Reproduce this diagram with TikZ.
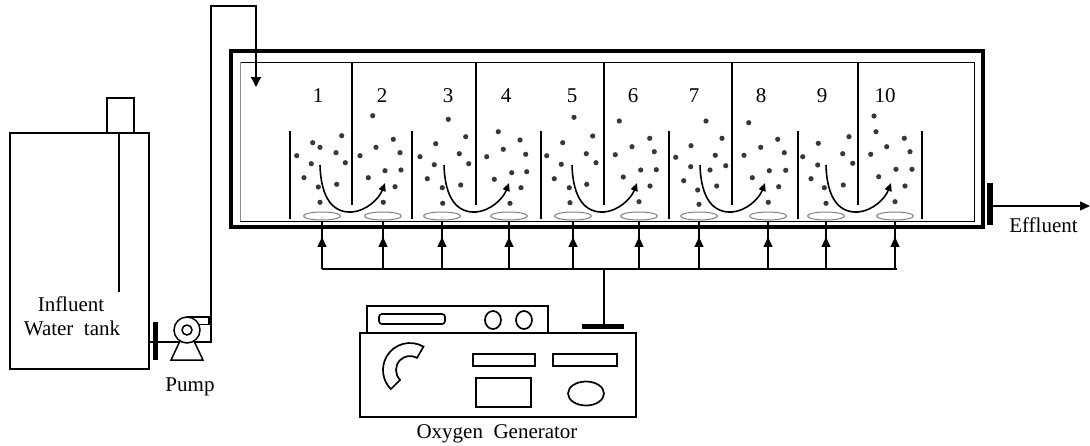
\documentclass[tikz,border=0pt]{standalone}
\usepackage{fontspec}
\setmainfont{Liberation Serif}
\usetikzlibrary{arrows.meta,shapes.geometric,decorations.markings}
\begin{document}
\begin{tikzpicture}[x=1pt,y=-1pt,
  lbl/.style={font=\fontsize{21}{25}\selectfont, inner sep=0pt, anchor=base},
  pipe/.style={line width=1.3pt},
  baffle/.style={line width=1.7pt},
  bubble/.style={fill=black!78},
  diffuser/.style={ellipse, draw=black!50, line width=1pt, minimum width=37pt, minimum height=8pt, inner sep=0pt},
  flow/.style={line width=1.6pt, -{Triangle[length=8pt,width=7pt]}},
  airline/.style={line width=1.3pt, postaction={decorate, decoration={markings,
      mark=at position 0.66 with {\arrow{Triangle[length=10pt,width=9pt]}}}}},
  valvebar/.style={line width=5.5pt},
  panel/.style={line width=1.7pt}
]
\useasboundingbox (0,0) rectangle (1090,445);

% ---------- influent water tank ----------
\draw[line width=2.5pt] (10,133) rectangle (149,369);
\draw[line width=2.5pt] (107,98) rectangle (134,133);
\draw[line width=1.5pt] (119,133) -- (119,292);
\node[lbl] (influent) at (71,311) {Influent};
\node[lbl] (watertank) at (72,335) {Water~ tank};

% ---------- valve and pump ----------
\coordinate (tankout) at (149,342);
\coordinate (pumpin) at (179,342);
\coordinate (pumpout) at (195,342);
\coordinate (pipetop) at (211,6);
\coordinate (inlet) at (256,87);
\draw[valvebar] (155.5,322) -- (155.5,360);
\draw[pipe] (tankout) -- (pumpin);
\draw[line width=1.5pt] (187,330) circle[radius=13];
\draw[line width=1.5pt] (187,330) circle[radius=5];
\draw[line width=1.5pt] (187,317) -- (209,317) -- (209,324.3) -- (198.7,324.3);
\draw[line width=1.5pt] (180,341) -- (171,360) -- (203,360) -- (194,341);
\node[lbl] (pumplbl) at (190,391) {Pump};

% feed pipe into the first compartment
\draw[pipe, -{Triangle[length=10pt,width=10pt]}] (pumpout) -| (pipetop) -| (inlet);

% ---------- reactor ----------
\draw[line width=3.3pt] (231,51) rectangle (983,227);
\draw[line width=1pt] (240,62) -- (974,62) -- (974,221) -- (240,221);
\draw[line width=1pt, black!45] (240,62) -- (240,221);

% hanging baffles
\foreach \x in {352,476,604,732,858}
  \draw[baffle] (\x,62) -- (\x,205);
% standing baffles
\foreach \x in {290,412,541,669,798,922}
  \draw[baffle] (\x,131) -- (\x,219);

% compartment numbers
\foreach \i/\x in {1/318,2/382,3/448,4/506,5/572,6/633,7/694,8/761,9/822,10/885}
  \node[lbl] (n\i) at (\x,102.3) {\i};

% bubbles
\foreach \p in {
  (372.7,115.7),(341.7,135.7),(312.7,142.7),(320,147.3),(336,152.7),(296.7,155.7),
  (311.3,163.7),(345.3,162.7),(304,177.7),(318.3,187),(336.7,184.3),(320,202.3),
  (360,155.7),(376,147.3),(393.3,139.3),(400,152.7),(385,170.7),(401,170),
  (368.3,177.7),(395,186.7),(383.3,202.3),
  (448.3,119.3),(465.7,136.7),(435.7,143.7),(459.3,153.7),(420,156.7),(434.3,164.7),
  (468.7,163.7),(427.3,178.7),(442.3,187.7),(460.7,185),(442.7,203.3),
  (498.3,131.7),(520,140),(503.3,149.3),(525.7,154.3),(486.7,156.7),(511.7,172.7),
  (526.7,171.7),(494.3,179.3),(521,187.7),(510,203.3),
  (574,117.3),(592.7,136),(562.7,142.7),(586.3,153.7),(546.7,155.7),(561.3,164.3),
  (596,162.7),(554.3,178.7),(569.3,187.7),(586.7,184.3),(570,202.7),
  (619.3,121),(649.7,138.3),(632,146.7),(654.3,151.7),(615.3,154.7),(640.7,170),
  (656.3,169.7),(623.3,177),(650,186),(639,201.7),
  (706,121),(722,138.3),(691,145.7),(715.3,155.3),(675.7,157.3),(690.7,166.7),
  (725.7,165.7),(710,170),(683.7,180.7),(697.7,190),(716.7,186),(699,204.3),
  (748.7,122.7),(777.7,139.3),(760.7,147.3),(784.3,152.7),(744,155.3),(769.3,170.7),
  (785.7,170.3),(752.3,177.7),(778.7,186.7),(768.3,202.3),
  (818.3,143.3),(849,136.7),(802.7,156.7),(842.7,153.7),(817.7,165),(852.7,163.3),
  (811,178.7),(824.3,187.7),(843.3,185),(826,203.3),
  (874,116),(876,131.7),(904.3,138.3),(886.7,146.7),(910,151.7),(870.7,154.3),
  (896,169.3),(912,169.3),(878.7,176.7),(905,186),(895,201.7)}
  \fill[bubble] \p circle[radius=2.6];

% flow paths under the hanging baffles
\foreach \L in {352,476,604,732,858}
  \draw[flow] (\L-32,165) .. controls (\L-31,200) and (\L-18,213) .. (\L,212)
              .. controls (\L+14,211) and (\L+27,199) .. (\L+33,183);

% diffusers and air supply
\foreach \i/\x in {1/322,2/383,3/442,4/509,5/573,6/639,7/699,8/768,9/826,10/895} {
  \node[diffuser] (d\i) at (\x,216) {};
  \coordinate (h\i) at (\x,269);
  \draw[airline] (h\i) -- (d\i.south);
}
\coordinate (hend) at (897,269);
\coordinate (hfeed) at (604,269);
\coordinate (genin) at (604,326);
\draw[pipe] (h1) -- (hend);
\draw[pipe] (hfeed) -- (genin);
\draw[line width=5pt] (582,326) -- (624,326);

% ---------- effluent ----------
\coordinate (effout) at (993,206);
\coordinate (effend) at (1090,206);
\draw[line width=6pt] (990,183) -- (990,225);
\draw[pipe, -{Triangle[length=10pt,width=9pt]}] (effout) -- (effend);
\node[lbl] (efflbl) at (1043.5,232) {Effluent};

% ---------- oxygen generator ----------
\draw[line width=2pt] (367,306) rectangle (548,333);
\draw[line width=2.5pt] (360,333) rectangle (636,417);
\draw[panel, rounded corners=3pt] (379,314) rectangle (445,324);
\draw[panel] (493,320) ellipse[x radius=8, y radius=9];
\draw[panel] (524,320) ellipse[x radius=8, y radius=9];
\draw[panel] (473,354) rectangle (535,366);
\draw[panel] (553,354) rectangle (617,366);
\draw[panel] (476,378) rectangle (531,407);
\draw[panel] (586,393.5) ellipse[x radius=18, y radius=12];
\draw[panel] (410,370) ++(300:27) arc[start angle=300, end angle=135, radius=27]
  -- ++(135:-13) arc[start angle=135, end angle=300, radius=14] -- cycle;
\node[lbl] (genlbl) at (497,438) {Oxygen~ Generator};

\end{tikzpicture}
\end{document}
